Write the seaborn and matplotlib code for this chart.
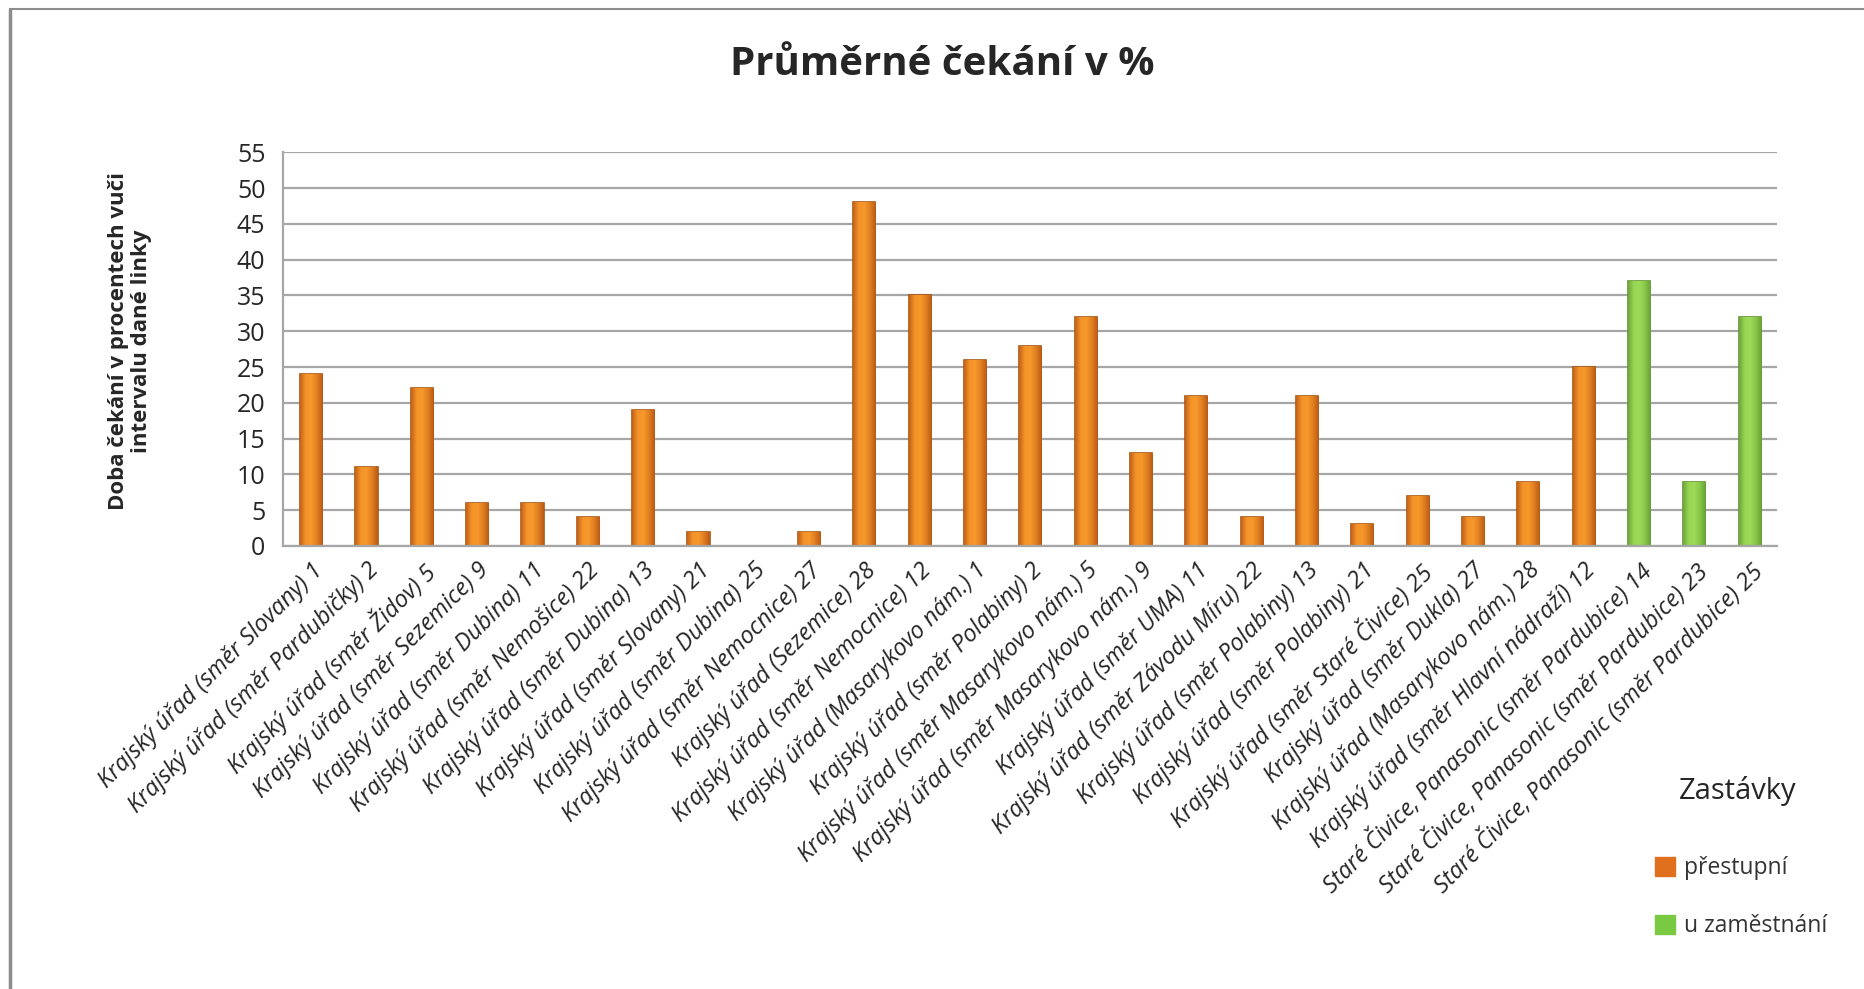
import numpy as np
import pandas as pd
import matplotlib
matplotlib.use("Agg")
import matplotlib.pyplot as plt
import matplotlib.patches as mpatches
from matplotlib.colors import LinearSegmentedColormap
from matplotlib.lines import Line2D
from matplotlib.ticker import FixedLocator, MultipleLocator
import seaborn as sns

# data
stops = [
    "Krajský úřad (směr Slovany) 1",
    "Krajský úřad (směr Pardubičky) 2",
    "Krajský úřad (směr Židov) 5",
    "Krajský úřad (směr Sezemice) 9",
    "Krajský úřad (směr Dubina) 11",
    "Krajský úřad (směr Nemošice) 22",
    "Krajský úřad (směr Dubina) 13",
    "Krajský úřad (směr Slovany) 21",
    "Krajský úřad (směr Dubina) 25",
    "Krajský úřad (směr Nemocnice) 27",
    "Krajský úřad (Sezemice) 28",
    "Krajský úřad (směr Nemocnice) 12",
    "Krajský úřad (Masarykovo nám.) 1",
    "Krajský úřad (směr Polabiny) 2",
    "Krajský úřad (směr Masarykovo nám.) 5",
    "Krajský úřad (směr Masarykovo nám.) 9",
    "Krajský úřad (směr UMA) 11",
    "Krajský úřad (směr Závodu Míru) 22",
    "Krajský úřad (směr Polabiny) 13",
    "Krajský úřad (směr Polabiny) 21",
    "Krajský úřad (směr Staré Čivice) 25",
    "Krajský úřad (směr Dukla) 27",
    "Krajský úřad (Masarykovo nám.) 28",
    "Krajský úřad (směr Hlavní nádraží) 12",
    "Staré Čivice, Panasonic (směr Pardubice) 14",
    "Staré Čivice, Panasonic (směr Pardubice) 23",
    "Staré Čivice, Panasonic (směr Pardubice) 25",
]
waiting = [24, 11, 22, 6, 6, 4, 19, 2, 0, 2, 48, 35, 26, 28, 32, 13, 21, 4, 21, 3, 7, 4, 9, 25, 37, 9, 32]
stop_type = ["přestupní"] * 24 + ["u zaměstnání"] * 3
y_ticks = list(range(0, 56, 5))

df = pd.DataFrame({"stop": stops, "wait": waiting, "type": stop_type})

sns.set_style("white")
plt.rcParams['font.family'] = ['Open Sans', 'DejaVu Sans']

fig = plt.figure(figsize=(18.65, 9.89), dpi=100)
ax = fig.add_axes([0.152, 0.448, 0.801, 0.398])

palette = {"přestupní": "#F08C26", "u zaměstnání": "#92D050"}
edges = {"přestupní": "#A85510", "u zaměstnání": "#5F9230"}
shades = {
    "přestupní": LinearSegmentedColormap.from_list("o", ["#C4621A", "#F49428", "#F7982C", "#E07E20", "#B85A16"]),
    "u zaměstnání": LinearSegmentedColormap.from_list("g", ["#6EA63A", "#98D654", "#9CDA58", "#88C649", "#679E36"]),
}
sns.barplot(data=df, x="stop", y="wait", hue="type", dodge=False, palette=palette,
            width=0.4, legend=False, ax=ax, saturation=1)

# bevel-like shading on the bars
grad = np.linspace(0, 1, 64).reshape(1, -1)
for bar, t in zip(ax.patches, stop_type):
    bar.set_edgecolor(edges[t])
    bar.set_linewidth(1.2)
    if bar.get_height() > 0:
        im = ax.imshow(grad, cmap=shades[t], aspect="auto", zorder=bar.get_zorder() + 0.1,
                       extent=(bar.get_x(), bar.get_x() + bar.get_width(), 0, bar.get_height()))
        im.set_clip_path(bar)

ax.set_ylim(0, 55)
ax.set_xlim(-0.5, len(stops) - 0.5)
ax.yaxis.set_major_locator(FixedLocator(y_ticks))
ax.yaxis.grid(True, color="#A6A6A6", linewidth=1.6)
ax.set_axisbelow(True)
for s in ["top", "right"]:
    ax.spines[s].set_visible(False)
for s in ["left", "bottom"]:
    ax.spines[s].set_color("#A6A6A6")
    ax.spines[s].set_linewidth(1.6)

ax.tick_params(axis="y", length=9, width=1.6, color="#A6A6A6", labelsize=18, pad=4)
ax.tick_params(axis="x", which="major", length=0, labelsize=17, pad=9)
ax.xaxis.set_minor_locator(MultipleLocator(1, offset=0.5))
ax.tick_params(axis="x", which="minor", length=9, width=1.6, color="#A6A6A6", direction="out")
for lbl in ax.get_xticklabels():
    lbl.set_rotation(45)
    lbl.set_ha("right")
    lbl.set_rotation_mode("anchor")
    lbl.set_style("italic")

ax.set_xlabel("")
ax.set_ylabel("Doba čekání v procentech vuči\nintervalu dané linky", fontsize=16,
              fontweight="bold", linespacing=1.1)
ax.yaxis.set_label_coords(-0.088, 0.52)

fig.suptitle("Průměrné čekání v %", fontsize=29, fontweight="bold", x=0.505, y=0.955)

# legend
fig.text(0.932, 0.2, "Zastávky", fontsize=21, ha="center", va="center")
handles = [mpatches.Patch(color="#E0701E", label="přestupní"),
           mpatches.Patch(color="#7AC943", label="u zaměstnání")]
leg = fig.legend(handles=handles, loc="upper left", bbox_to_anchor=(0.881, 0.146),
                 frameon=False, fontsize=16.5, borderpad=0, handlelength=0.9,
                 handleheight=0.9, handletextpad=0.4, labelspacing=1.5)
for txt in leg.get_texts():
    txt.set_color("#333333")

# outer frame (left and top edges visible)
fig.add_artist(Line2D([0.0055, 0.0055], [0, 0.991], color="#8C8C8C", linewidth=2.5))
fig.add_artist(Line2D([0.0055, 1], [0.991, 0.991], color="#8C8C8C", linewidth=1.5))

fig.savefig("out.png", dpi=100)
